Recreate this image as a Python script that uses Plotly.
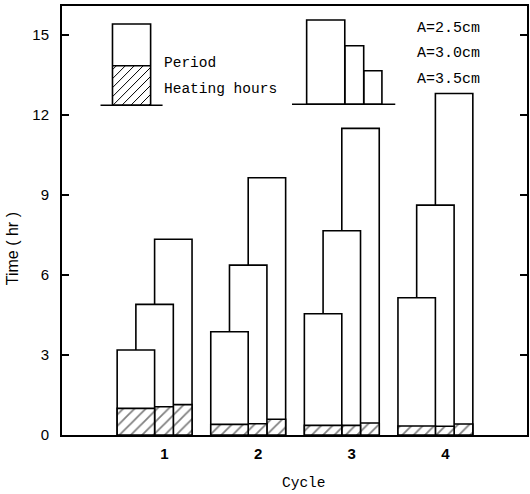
import plotly.graph_objects as go

# ---------------- data ----------------
cycles = [1, 2, 3, 4]
cycle_labels = ["1", "2", "3", "4"]
series_names = ["A=2.5cm", "A=3.0cm", "A=3.5cm"]
period_a25 = [3.19, 3.87, 4.55, 5.15]
period_a30 = [4.90, 6.37, 7.66, 8.62]
period_a35 = [7.34, 9.65, 11.5, 12.81]
heating_a25 = [1.00, 0.40, 0.36, 0.34]
heating_a30 = [1.06, 0.42, 0.36, 0.33]
heating_a35 = [1.14, 0.59, 0.45, 0.41]
y_ticks = [0, 3, 6, 9, 12, 15]

periods = [period_a25, period_a30, period_a35]
heatings = [heating_a25, heating_a30, heating_a35]

# ---------------- layout geometry ----------------
W, H = 530, 494
L, R, T, B = 62, 1, 6, 59
PW = W - L - R
PH = H - T - B
BAR_W = 0.4
OFFSETS = [-0.4, -0.2, 0.0]
LBL_SHIFT = 0.106

def px(x):
    return (x - L) / PW

def py(y):
    return (H - B - y) / PH

fig = go.Figure()

# draw back to front: tallest (A=3.5) first
for i in [2, 1, 0]:
    fig.add_trace(go.Bar(
        x=cycles, y=periods[i], width=BAR_W, offset=OFFSETS[i],
        marker=dict(color="white", line=dict(color="black", width=1.6)),
        name=series_names[i] + " period", showlegend=False,
    ))
    fig.add_trace(go.Bar(
        x=cycles, y=heatings[i], width=BAR_W, offset=OFFSETS[i],
        marker=dict(color="white", line=dict(color="black", width=1.6),
                    pattern=dict(shape="/", fgcolor="black", bgcolor="white",
                                 size=8, solidity=0.22)),
        name=series_names[i] + " heating", showlegend=False,
    ))

shapes = []
LINE = dict(color="black", width=1.6)

# legend key 1: period / heating box
bx0, bx1, btop, bmid, bbot = 112.7, 151.0, 24.0, 65.7, 105.3
shapes.append(dict(type="rect", xref="paper", yref="paper",
                   x0=px(bx0), x1=px(bx1), y0=py(bbot), y1=py(btop),
                   line=LINE, fillcolor="white"))
shapes.append(dict(type="line", xref="paper", yref="paper",
                   x0=px(bx0), x1=px(bx1), y0=py(bmid), y1=py(bmid), line=LINE))
c = bx0 + bmid + 4
while c < bx1 + bbot:
    xa = max(bx0, c - bbot)
    xb = min(bx1, c - bmid)
    if xb > xa:
        shapes.append(dict(type="line", xref="paper", yref="paper",
                           x0=px(xa), y0=py(c - xa), x1=px(xb), y1=py(c - xb),
                           line=dict(color="black", width=1)))
    c += 9
shapes.append(dict(type="line", xref="paper", yref="paper",
                   x0=px(100.7), x1=px(163), y0=py(bbot), y1=py(bbot), line=LINE))

# legend key 2: three stepped bars
for (x0, x1, top) in [(365.0, 383.3, 70.7), (346.0, 365.0, 45.7), (307.7, 346.0, 20.0)]:
    shapes.append(dict(type="rect", xref="paper", yref="paper",
                       x0=px(x0), x1=px(x1), y0=py(104.3), y1=py(top),
                       line=LINE, fillcolor="white"))
shapes.append(dict(type="line", xref="paper", yref="paper",
                   x0=px(293), x1=px(396.7), y0=py(104.3), y1=py(104.3), line=LINE))

MONO = "Liberation Mono"
annotations = [
    dict(text="Period", x=px(162.7), y=py(63), xref="paper", yref="paper",
         xanchor="left", yanchor="middle", showarrow=False,
         font=dict(family=MONO, size=14.5, color="black")),
    dict(text="Heating hours", x=px(162.7), y=py(89.3), xref="paper", yref="paper",
         xanchor="left", yanchor="middle", showarrow=False,
         font=dict(family=MONO, size=14.5, color="black")),
]
for name, yy in zip(series_names, [28.3, 53.3, 79.0]):
    annotations.append(dict(text=name, x=px(417), y=py(yy), xref="paper", yref="paper",
                            xanchor="left", yanchor="middle", showarrow=False,
                            font=dict(family=MONO, size=15, color="black")))
annotations.append(dict(text="Cycle", x=px(305.5), y=py(482.7), xref="paper", yref="paper",
                        xanchor="center", yanchor="middle", showarrow=False,
                        font=dict(family=MONO, size=14.5, color="black")))
annotations.append(dict(text="Time ( hr )", x=px(12), y=py(249), xref="paper", yref="paper",
                        xanchor="center", yanchor="middle", showarrow=False, textangle=-90,
                        font=dict(family="Liberation Sans", size=16, color="black")))

fig.update_layout(
    width=W, height=H,
    margin=dict(l=L, r=R, t=T, b=B, pad=0),
    plot_bgcolor="white", paper_bgcolor="white",
    barmode="overlay",
    shapes=shapes, annotations=annotations,
    showlegend=False,
)
fig.update_xaxes(
    range=[(L - 155) / 94 + 1, (W - R - 155) / 94 + 1],
    tickvals=[c + LBL_SHIFT for c in cycles], ticktext=cycle_labels,
    ticks="", showgrid=False, zeroline=False,
    showline=True, linecolor="black", linewidth=2, mirror=True,
    tickfont=dict(family="Liberation Sans", size=15, color="black", weight="bold"),
    ticklabelstandoff=4,
)
fig.update_yaxes(
    range=[0, 16.09], tickvals=y_ticks, ticktext=[str(v) for v in y_ticks],
    ticks="inside", ticklen=7, tickwidth=1.5, tickcolor="black",
    showgrid=False, zeroline=False,
    showline=True, linecolor="black", linewidth=2, mirror="allticks",
    tickfont=dict(family="Liberation Sans", size=15, color="black"),
    ticklabelstandoff=8,
)

fig.write_html("out.html")
